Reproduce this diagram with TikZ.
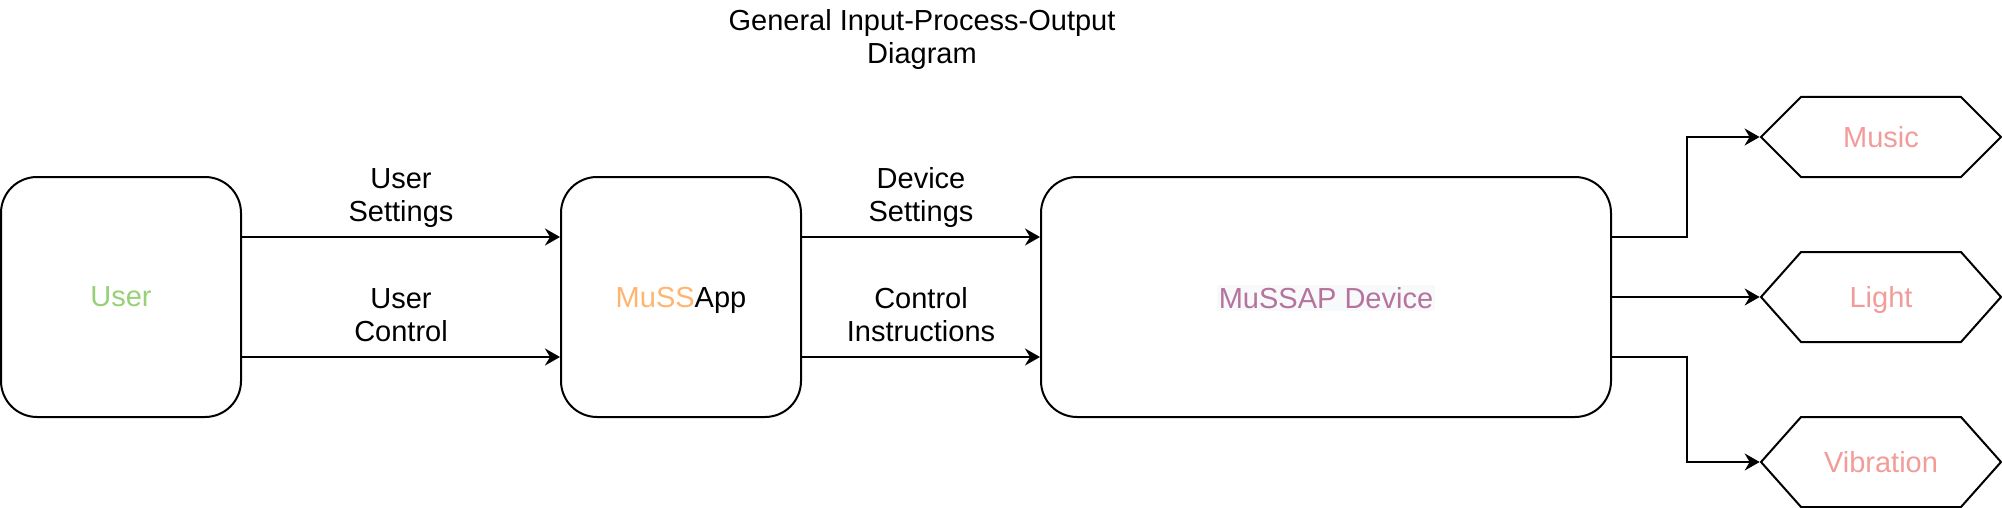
\documentclass[tikz,border=0pt]{standalone}
\usepackage{fontspec}
\setmainfont{Liberation Sans}
\usepackage{tikz}
\usetikzlibrary{arrows.meta,shapes.symbols}

\definecolor{usergreen}{HTML}{97D077}
\definecolor{mussorange}{HTML}{FFB570}
\definecolor{devpurple}{HTML}{B5739D}
\definecolor{devback}{HTML}{F8F9FA}
\definecolor{outpink}{HTML}{F19C99}

\tikzset{
  block/.style={draw, line width=1pt, rounded corners=18pt, minimum height=120pt, inner sep=0pt, text depth=0pt},
  outhex/.style={draw, line width=1pt, signal, signal to=west and east, signal pointer angle=#1,
    minimum width=120pt, inner sep=0pt, text depth=0pt, text=outpink},
  flow/.style={line width=1pt, -{Stealth[length=7.5pt,width=8.5pt,inset=2.5pt]}},
  flowlabel/.style={align=center, inner sep=0pt, text depth=0pt, above=7.2pt},
}

\begin{document}
\begin{tikzpicture}[x=0.5pt, y=-0.5pt, font=\fontsize{14.5}{16.5}\selectfont]
\useasboundingbox (0,0) rectangle (2002,508);
\node [align=center] (title) at (922,40) {General Input-Process-Output\\Diagram};
\node [block, minimum width=120pt, text=usergreen] (user) at (121,297) {User};
\node [block, minimum width=120pt] (app) at (681,297) {\textcolor{mussorange}{MuSS}App};
\node [block, minimum width=285pt] (device) at (1326,297) {\fboxsep=1pt\colorbox{devback}{\textcolor{devpurple}{MuSSAP Device}}};
\node [outhex=90, minimum height=40pt] (music) at (1881,137) {Music};
\node [outhex=96.7, minimum height=45pt] (light) at (1881,297) {Light};
\node [outhex=96.7, minimum height=45pt] (vibration) at (1881,462) {Vibration};
\draw [flow] ([yshift=30pt]user.east)  to node [flowlabel] {User\\Settings} ([yshift=30pt]app.west);
\draw [flow] ([yshift=-30pt]user.east) to node [flowlabel] {User\\Control} ([yshift=-30pt]app.west);
\draw [flow] ([yshift=30pt]app.east)   to node [flowlabel] {Device\\Settings} ([yshift=30pt]device.west);
\draw [flow] ([yshift=-30pt]app.east)  to node [flowlabel] {Control\\Instructions} ([yshift=-30pt]device.west);
\draw [flow] ([yshift=30pt]device.east) -- ++(75,0) |- (music.west);
\draw [flow] (device.east) -- (light.west);
\draw [flow] ([yshift=-30pt]device.east) -- ++(75,0) |- (vibration.west);
\end{tikzpicture}
\end{document}
